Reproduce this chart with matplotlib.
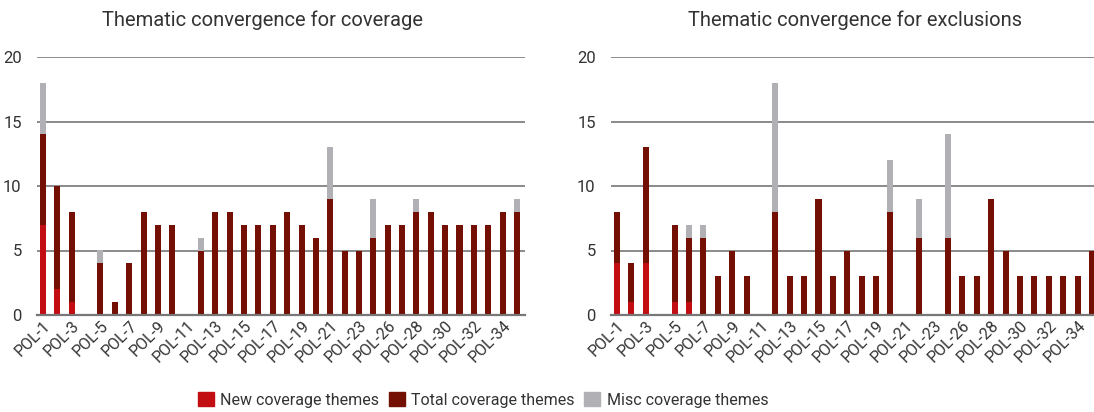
import matplotlib
matplotlib.use("Agg")
import matplotlib.pyplot as plt
from matplotlib.patches import Patch
import numpy as np

plt.rcParams['font.family'] = ['Roboto', 'DejaVu Sans']

categories = ['POL-%d' % i for i in range(1, 24)] + ['POL-%d' % i for i in range(25, 36)]

cov_new = [7, 2, 1, 0, 0, 0, 0, 0, 0, 0, 0, 0, 0, 0, 0, 0, 0,
           0, 0, 0, 0, 0, 0, 0, 0, 0, 0, 0, 0, 0, 0, 0, 0, 0]
cov_total = [7, 8, 7, 0, 4, 1, 4, 8, 7, 7, 0, 5, 8, 8, 7, 7, 7,
             8, 7, 6, 9, 5, 5, 6, 7, 7, 8, 8, 7, 7, 7, 7, 8, 8]
cov_misc = [4, 0, 0, 0, 1, 0, 0, 0, 0, 0, 0, 1, 0, 0, 0, 0, 0,
            0, 0, 0, 4, 0, 0, 3, 0, 0, 1, 0, 0, 0, 0, 0, 0, 1]

exc_new = [4, 1, 4, 0, 1, 1, 0, 0, 0, 0, 0, 0, 0, 0, 0, 0, 0,
           0, 0, 0, 0, 0, 0, 0, 0, 0, 0, 0, 0, 0, 0, 0, 0, 0]
exc_total = [4, 3, 9, 0, 6, 5, 6, 3, 5, 3, 0, 8, 3, 3, 9, 3, 5,
             3, 3, 8, 0, 6, 0, 6, 3, 3, 9, 5, 3, 3, 3, 3, 3, 5]
exc_misc = [0, 0, 0, 0, 0, 1, 1, 0, 0, 0, 0, 10, 0, 0, 0, 0, 0,
            0, 0, 4, 0, 3, 0, 8, 0, 0, 0, 0, 0, 0, 0, 0, 0, 0]

titles = ['Thematic convergence for coverage', 'Thematic convergence for exclusions']
legend_labels = ['New coverage themes', 'Total coverage themes', 'Misc coverage themes']
yticks = [0, 5, 10, 15, 20]

C_NEW = '#C20E12'
C_TOT = '#741003'
C_MISC = '#B1B1B5'
TXT = '#333333'

W, H = 1094, 412
fig = plt.figure(figsize=(W / 100, H / 100), dpi=100)

def px_axes(x0, x1, ytop, ybot):
    return [x0 / W, 1 - ybot / H, (x1 - x0) / W, (ybot - ytop) / H]

ax1 = fig.add_axes(px_axes(37, 525, 57, 315))
ax2 = fig.add_axes(px_axes(611, 1100, 57, 315))

def draw(ax, new, tot, misc):
    x = np.arange(len(categories))
    new = np.array(new); tot = np.array(tot); misc = np.array(misc)
    w = 0.42
    ax.bar(x, new, w, color=C_NEW, zorder=3)
    ax.bar(x, tot, w, bottom=new, color=C_TOT, zorder=3)
    ax.bar(x, misc, w, bottom=new + tot, color=C_MISC, zorder=3)
    ax.set_xlim(-0.42, len(categories) - 1 + 0.56)
    ax.set_ylim(0, 20)
    ax.set_yticks(yticks)
    ax.set_yticklabels([str(v) for v in yticks], fontsize=12, color=TXT)
    for v in yticks[1:]:
        ax.axhline(v, color='#8a8a8a', lw=1.4, zorder=1)
    for s in ['top', 'right', 'left']:
        ax.spines[s].set_visible(False)
    ax.spines['bottom'].set_color('#777777')
    ax.spines['bottom'].set_linewidth(1.6)
    ax.spines['bottom'].set_zorder(4)
    ax.tick_params(axis='y', length=0, pad=11)
    ax.tick_params(axis='x', length=0, pad=2)
    ax.set_xticks(x[::2])
    ax.set_xticklabels(categories[::2], rotation=45, ha='right',
                       rotation_mode='anchor', fontsize=11.5, color=TXT)

draw(ax1, cov_new, cov_total, cov_misc)
draw(ax2, exc_new, exc_total, exc_misc)

fig.text(263 / W, 1 - 20 / H, titles[0], ha='center', va='center', fontsize=14.5, color=TXT)
fig.text(855 / W, 1 - 20 / H, titles[1], ha='center', va='center', fontsize=14.5, color=TXT)

handles = [Patch(color=C_NEW), Patch(color=C_TOT), Patch(color=C_MISC)]
fig.legend(handles, legend_labels, loc='center', bbox_to_anchor=(483 / W, 1 - 400 / H),
           ncol=3, frameon=False, fontsize=11.5, handlelength=1.0, handleheight=1.0,
           handletextpad=0.4, columnspacing=0.6, labelcolor=TXT)

fig.savefig('out.png', dpi=100)
